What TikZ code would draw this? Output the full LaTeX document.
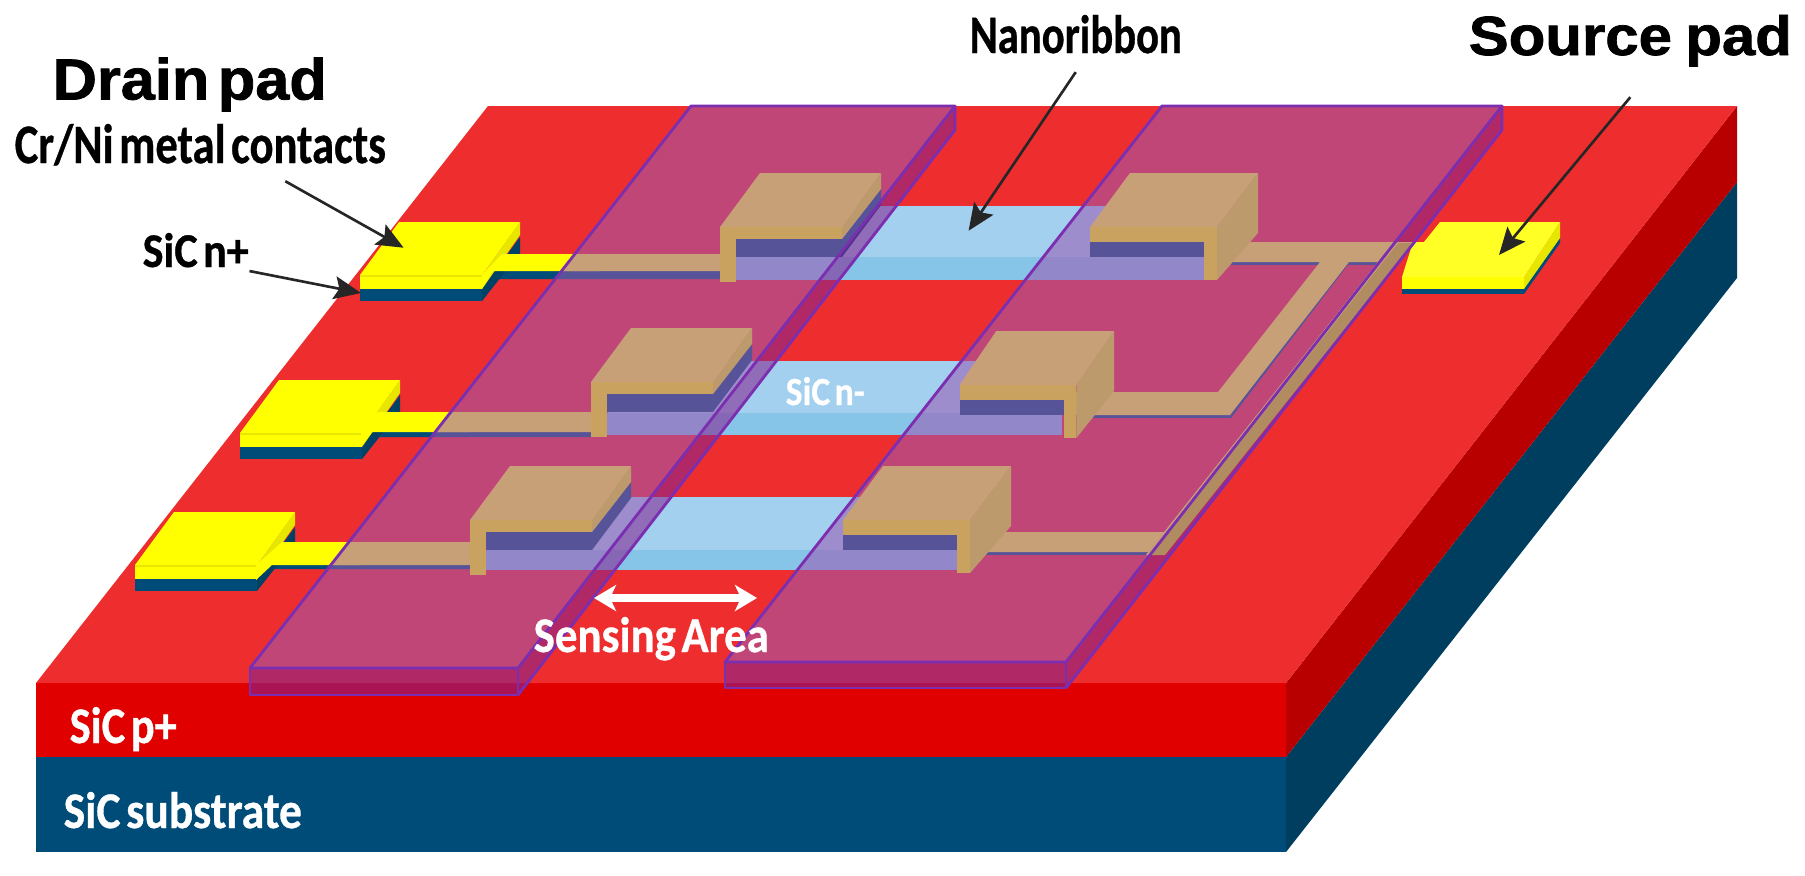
\documentclass[tikz,border=0pt]{standalone}
\usepackage{graphicx}
\usepackage{fontspec}
\newfontfamily\carl{Carlito}[WordSpace=.55,BoldFeatures={FakeBold=.7}]
\newfontfamily\arl{Liberation Sans}[WordSpace=.8,BoldFeatures={FakeBold=1.3}]
\usetikzlibrary{arrows.meta,calc}
\definecolor{topred}{RGB}{238,46,46}
\definecolor{frontred}{RGB}{224,0,0}
\definecolor{sidered}{RGB}{184,0,0}
\definecolor{frontblue}{RGB}{0,76,120}
\definecolor{sideblue}{RGB}{0,62,96}
\definecolor{tantop}{RGB}{200,160,120}
\definecolor{tanfront}{RGB}{201,162,96}
\definecolor{tanside}{RGB}{189,154,108}
\definecolor{tandark}{RGB}{176,140,96}
\definecolor{yel}{RGB}{255,255,0}
\definecolor{yelside}{RGB}{230,230,0}
\definecolor{chtop}{RGB}{162,208,238}
\definecolor{chfront}{RGB}{134,196,232}
\definecolor{ribfill}{RGB}{156,89,178}
\definecolor{ribdeep}{RGB}{133,36,145}
\definecolor{ribline}{RGB}{123,47,176}
\tikzset{
  x=0.01cm,y=-0.01cm,
  ribtop/.style={fill=ribfill,fill opacity=.56},
  ribface/.style={fill=ribdeep,fill opacity=.58},
  ribedge/.style={draw=ribline,line width=.8pt,line join=round},
  blacklab/.style={text=black,font=\carl\bfseries},
  whitelab/.style={text=white,font=\carl\bfseries},
  padlab/.style={text=black,font=\arl\bfseries},
  ptr/.style={draw=black!85,line width=.75pt,-{Stealth[length=.27cm,width=.23cm,inset=.05cm]}},
  dbl/.style={draw=white,line width=.08cm,{Stealth[length=.22cm,width=.26cm,inset=.06cm]}-{Stealth[length=.22cm,width=.26cm,inset=.06cm]}}
}
\newcommand{\lab}[7]{\node[#1,anchor=base west,inner sep=0pt] (#2) at (#3,#4) {\resizebox{#5cm}{#6cm}{#7}};}
% drain pad, origin = front-left top corner
\newcommand{\drainpad}[2]{\begin{scope}[shift={(#1,#2)}]
  \fill[frontblue] (0,14) rectangle (122,26);
  \fill[yel] (0,0) rectangle (122,14);
  \fill[yelside] (0,0) rectangle (122,2);
  \fill[frontblue!85!black] (122,14) -- (160,-38) -- (160,-22) -- (122,26) -- cycle;
  \fill[yelside] (122,0) -- (160,-53) -- (160,-40) -- (122,14) -- cycle;
  \fill[yel] (0,0) -- (39,-53) -- (160,-53) -- (122,0) -- cycle;
\end{scope}}
% metal layer of a contact, lies under the ribbon
\newcommand{\contactblueL}[2]{\begin{scope}[shift={(#1,#2)}]
  \fill[frontblue] (16,11) rectangle (122,30);
  \fill[frontblue] (122,12) -- (161,-38) -- (161,-22) -- (122,30) -- cycle;
\end{scope}}
\newcommand{\contacttanL}[2]{\begin{scope}[shift={(#1,#2)}]
  \fill[tanside] (122,0) -- (161,-54) -- (161,-38) -- (122,12) -- cycle;
  \fill[tantop] (0,0) -- (40,-54) -- (161,-54) -- (122,0) -- cycle;
  \fill[tanfront] (0,0) rectangle (122,12);
  \fill[tanfront] (0,0) rectangle (16,55);
\end{scope}}
\newcommand{\contactblueR}[3]{\begin{scope}[shift={(#1,#2)},xscale=#3]
  \fill[frontblue] (0,15) rectangle (114,30);
\end{scope}}
\newcommand{\contacttanR}[3]{\begin{scope}[shift={(#1,#2)},xscale=#3]
  \fill[tanside] (127,0) -- (168,-54) -- (168,6) -- (127,53) -- cycle;
  \fill[tantop] (0,0) -- (40,-54) -- (168,-54) -- (127,0) -- cycle;
  \fill[tanfront] (0,0) rectangle (127,15);
  \fill[tanfront] (114,0) rectangle (127,53);
\end{scope}}
% channel: x of back-left, back-right, front face left, right; y of back, front, bottom
\newcommand{\channel}[7]{%
  \fill[chtop] (#1,#5) -- (#2,#5) -- (#2,#6) -- (#3,#6) -- cycle;
  \fill[chfront] (#3,#6) rectangle (#4,#7);}
\begin{document}
\begin{tikzpicture}
\useasboundingbox (0,0) rectangle (1805,875);
\fill[white] (0,0) rectangle (1805,875);
% slab
\fill[frontblue] (36,757) rectangle (1286,852);
\fill[frontred] (36,683) rectangle (1286,757);
\fill[sideblue] (1286,757) -- (1737,182) -- (1737,278) -- (1286,852) -- cycle;
\fill[sidered] (1286,683) -- (1737,106) -- (1737,182) -- (1286,757) -- cycle;
\fill[topred] (36,683) -- (488,106) -- (1737,106) -- (1286,683) -- cycle;
% source pad
\fill[frontblue] (1402,288) rectangle (1524,294);
\fill[frontblue] (1524,288) -- (1560,238) -- (1560,243) -- (1524,294) -- cycle;
\fill[yel] (1402,277) rectangle (1524,289);
\fill[yelside] (1524,277) -- (1560,222) -- (1560,238) -- (1524,289) -- cycle;
\fill[yel!85!white] (1440,222) -- (1560,222) -- (1524,277) -- (1402,277) -- (1413,242) -- (1424,242) -- cycle;
% drain pads: necks and metal under the ribbon
\fill[frontblue] (482,289) -- (493,271) -- (720,271) -- (720,279) -- (493,279) -- (482,301) -- cycle;
\fill[frontblue] (361,447) -- (372,432) -- (591,432) -- (591,437) -- (372,437) -- (361,460) -- cycle;
\fill[frontblue] (256,580) -- (272,565) -- (473,565) -- (473,569) -- (272,569) -- (256,591) -- cycle;
\drainpad{360}{275}
\drainpad{240}{433}
\drainpad{135}{565}
\fill[yel] (482,275) -- (502,254) -- (600,254) -- (600,271) -- (493,271) -- (482,289) -- cycle;
\fill[yel] (361,433) -- (377,412) -- (470,412) -- (470,432) -- (372,432) -- (361,447) -- cycle;
\fill[yel] (256,565) -- (282,542) -- (360,542) -- (360,565) -- (272,565) -- (256,580) -- cycle;
% channels
\channel{855}{1112}{736}{1205}{206}{257}{280}
\channel{725}{985}{607}{1062}{361}{413}{435}
\channel{605}{873}{486}{958}{497}{550}{570}
% metal under contacts and wires
\contactblueL{720}{227}
\contactblueL{591}{382}
\contactblueL{470}{520}
\contactblueR{1090}{227}{1}
\contactblueR{959.5}{385}{.92}
\contactblueR{843}{520}{1}
\fill[frontblue] (1217,262) rectangle (1398,265);
\fill[frontblue] (1076,415) rectangle (1231,418);
\fill[frontblue] (1228,418) -- (1231,418) -- (1350,262) -- (1347,262) -- cycle;
\fill[frontblue] (970,552) rectangle (1150,555);
% ribbons
\fill[ribtop] (691,106) -- (955,106) -- (518,668) -- (250,668) -- cycle;
\fill[ribface] (250,668) rectangle (518,695);
\fill[ribface] (518,668) -- (955,106) -- (955,130) -- (518,695) -- cycle;
\fill[ribtop] (1162,106) -- (1502,106) -- (1066,662) -- (725,662) -- cycle;
\fill[ribface] (725,662) rectangle (1066,688);
\fill[ribface] (1066,662) -- (1502,106) -- (1502,130) -- (1066,688) -- cycle;
% wires on the ribbons
\fill[tantop] (575,254) -- (720,254) -- (720,271) -- (561.6,271) -- cycle;
\fill[tantop] (451,412) -- (591,412) -- (591,432) -- (435,432) -- cycle;
\fill[tantop] (349,542) -- (473,542) -- (473,565) -- (330,565) -- cycle;
\fill[tantop] (1210,242) -- (1413,242) -- (1398,262) -- (1349,262) -- (1230,415) -- (1076,415) -- (1076,392) -- (1218,392) -- (1320,262) -- (1210,262) -- cycle;
\fill[tantop] (970,532) -- (1165,532) -- (1150,552) -- (970,552) -- cycle;
\fill[tandark] (1393,243) -- (1413,243) -- (1165,555) -- (1146,555) -- cycle;
\fill[tantop] (1393,243) -- (1398,243) -- (1151,555) -- (1146,555) -- cycle;
% contacts
\contacttanL{720}{227}
\contacttanL{591}{382}
\contacttanL{470}{520}
\contacttanR{1090}{227}{1}
\contacttanR{959.5}{385}{.92}
\contacttanR{843}{520}{1}
% ribbon outlines
\draw[ribedge] (691,106) -- (955,106) -- (518,668) -- (250,668) -- cycle;
\draw[ribedge] (250,668) -- (250,695) -- (518,695) -- (518,668);
\draw[ribedge] (955,106) -- (955,130) -- (518,695);
\draw[ribedge] (1162,106) -- (1502,106) -- (1066,662) -- (725,662) -- cycle;
\draw[ribedge] (725,662) -- (725,688) -- (1066,688) -- (1066,662);
\draw[ribedge] (1502,106) -- (1502,130) -- (1066,688);
% labels
\lab{padlab}{labDrain}{52}{99.5}{2.74}{.42}{Drain\hspace{.14em}pad}
\lab{padlab}{labSource}{1468}{55}{3.23}{.40}{Source pad}
\lab{blacklab}{labCr}{14}{163}{3.71}{.39}{Cr/Ni metal contacts}
\lab{blacklab}{labN}{142}{267}{1.06}{.34}{SiC n+}
\lab{blacklab}{labNano}{969}{53}{2.12}{.38}{Nanoribbon}
\lab{whitelab}{labSense}{533}{652}{2.35}{.35}{Sensing Area}
\lab{whitelab}{labNm}{785}{405}{.79}{.28}{SiC n-}
\lab{whitelab}{labP}{69}{743}{1.07}{.36}{SiC p+}
\lab{whitelab}{labSub}{63}{828}{2.38}{.36}{SiC substrate}
% connectors
\coordinate (tipCr) at (403.6,247.7);
\coordinate (tipN) at (361,293);
\coordinate (tipNano) at (968.6,230.7);
\coordinate (tipSource) at (1499,255);
\coordinate (senseL) at (594,598);
\coordinate (senseR) at (757,598);
\draw[ptr] ($(labCr.south)+(85,15)$) -- (tipCr);
\draw[ptr] ($(labN.south east)+(0,3)$) -- (tipN);
\draw[ptr] ($(labNano.south)+(0,18)$) -- (tipNano);
\draw[ptr] ($(labSource.south)+(0,30)$) -- (tipSource);
\draw[dbl] (senseL) -- (senseR);
\end{tikzpicture}
\end{document}
